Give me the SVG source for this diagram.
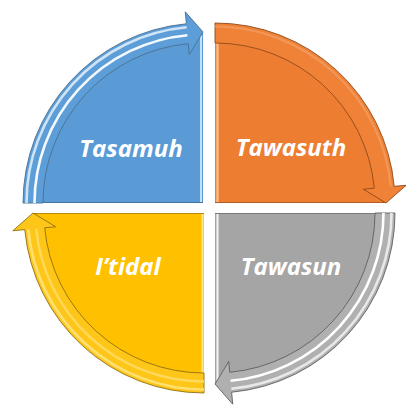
<svg xmlns="http://www.w3.org/2000/svg" width="406" height="406" viewBox="0 0 406 406">
<style>
.lbl{font-family:"Open Sans","Noto Sans","DejaVu Sans",sans-serif;font-weight:bold;font-style:italic;font-size:24px;fill:#ffffff;text-anchor:middle}
.band{stroke-width:0.9;stroke-linejoin:round}
.hl{fill:none;stroke-linecap:butt}
</style>
<defs>
<path id="sector" d="M0,0 L-170,0 A170,170 0 0 1 0,-170 Z"/>
<path id="arrow" d="M-180,0 A180,180 0 0 1 -16.63,-179.23 L-17.74,-191.18 L0,-171 L-13.77,-148.36 L-14.78,-159.31 A160,160 0 0 0 -160,0 Z"/>
<path id="s1" d="M-176.5,0 A176.5,176.5 0 0 1 -16.31,-175.74"/>
<path id="s2" d="M-168.5,0 A168.5,168.5 0 0 1 -15.57,-167.78"/>
</defs>
<rect width="406" height="406" fill="#ffffff"/>
<g id="tasamuh">
<g transform="translate(203,203)"><use href="#sector" fill="#5b9bd5"/></g>
<line x1="201" y1="34" x2="201" y2="202" stroke="#c3e1f6" stroke-width="2"/>
<line x1="26" y1="202.5" x2="203" y2="202.5" stroke="#41719c" stroke-width="1"/>
<text class="lbl" x="131" y="157">Tasamuh</text>
</g>
<g id="tawasuth">
<g transform="translate(215,203) rotate(90)"><use href="#sector" fill="#ed7d31"/></g>
<line x1="217.5" y1="24" x2="217.5" y2="202" stroke="#f7c197" stroke-width="2.2"/>
<line x1="215" y1="202.5" x2="385" y2="202.5" stroke="#b35d22" stroke-width="1"/>
<text class="lbl" x="291" y="156">Tawasuth</text>
</g>
<g id="tawasun">
<g transform="translate(215,213) rotate(180)"><use href="#sector" fill="#a5a5a5"/></g>
<line x1="217.5" y1="214" x2="217.5" y2="383" stroke="#f2f2f2" stroke-width="2.2"/>
<line x1="215" y1="213.5" x2="390" y2="213.5" stroke="#7a7a7a" stroke-width="1"/>
<text class="lbl" x="291" y="275">Tawasun</text>
</g>
<g id="itidal">
<g transform="translate(204,213) rotate(270)"><use href="#sector" fill="#ffc000"/></g>
<line x1="202.5" y1="214" x2="202.5" y2="391" stroke="#ffe38a" stroke-width="2"/>
<line x1="33" y1="213.5" x2="204" y2="213.5" stroke="#b8870a" stroke-width="1"/>
<text class="lbl" x="128" y="275">I’tidal</text>
</g>
<g id="connectors">
<g id="arrow-blue" transform="translate(203,203)">
<use href="#arrow" class="band" fill="#5d9ed8" stroke="#4a6f91"/>
<use href="#s1" class="hl" stroke="#cfe4f6" stroke-width="2.6"/>
<use href="#s2" class="hl" stroke="#f4f9fd" stroke-width="2.6"/>
</g>
<g id="arrow-orange" transform="translate(215,203) rotate(90)">
<use href="#arrow" class="band" fill="#ef8236" stroke="#8f4a1c"/>
<use href="#s1" class="hl" stroke="#f3a066" stroke-width="2.2" opacity="0.7"/>
</g>
<g id="arrow-gray" transform="translate(215,213) rotate(180)">
<use href="#arrow" class="band" fill="#b0b0b0" stroke="#5f5f5f"/>
<use href="#s1" class="hl" stroke="#e8e8e8" stroke-width="2.6"/>
<use href="#s2" class="hl" stroke="#ffffff" stroke-width="2.6"/>
</g>
<g id="arrow-yellow" transform="translate(204,213) rotate(270)">
<use href="#arrow" class="band" fill="#ffc61a" stroke="#8f6f10"/>
<use href="#s1" class="hl" stroke="#ffe070" stroke-width="2.6"/>
<use href="#s2" class="hl" stroke="#ffd95a" stroke-width="2.4"/>
</g>
</g>
</svg>
